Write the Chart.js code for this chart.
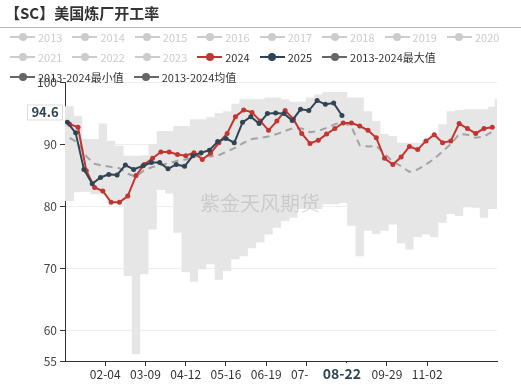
<!DOCTYPE html>
<html>
<head>
<meta charset="utf-8">
<script src="https://cdn.jsdelivr.net/npm/chart.js@4.4.0/dist/chart.umd.min.js"></script>
<style>
body{margin:0;background:#fff;}
#wrap{position:relative;width:521px;height:385px;overflow:hidden;font-family:"Noto Sans CJK SC","Noto Sans",sans-serif;}
#title{position:absolute;left:5px;top:2px;font-size:15px;font-weight:bold;color:#333;z-index:2;}
#rule{position:absolute;left:0;top:27px;width:521px;height:1px;background:#bbb;z-index:2;}
#legend{position:absolute;left:10px;top:27px;width:502px;display:flex;flex-wrap:wrap;column-gap:10px;z-index:2;}
.item{display:flex;align-items:center;height:20px;font-size:11px;color:#ccc;white-space:nowrap;}
.icon{position:relative;width:25px;height:14px;margin-right:3px;}
.icon i{position:absolute;left:0;right:0;top:6px;height:2px;}
.icon b{position:absolute;left:8.5px;top:3px;width:8px;height:8px;border-radius:50%;}
canvas{position:absolute;left:0;top:0;}
</style>
</head>
<body>
<div id="wrap">
  <canvas id="c" width="521" height="385"></canvas>
  <div id="title">【SC】美国炼厂开工率</div>
  <div id="rule"></div>
  <div id="legend"></div>
</div>
<script>
// weekly dates (MM-DD)
const dates2024 = ['01-05','01-12','01-19','01-26','02-02','02-09','02-16','02-23','03-01','03-08','03-15','03-22','03-29',
  '04-05','04-12','04-19','04-26','05-03','05-10','05-17','05-24','05-31','06-07','06-14','06-21','06-28',
  '07-05','07-12','07-19','07-26','08-02','08-09','08-16','08-23','08-30','09-06','09-13','09-20','09-27',
  '10-04','10-11','10-18','10-25','11-01','11-08','11-15','11-22','11-29','12-06','12-13','12-20','12-27'];
const dates2025 = ['01-03','01-10','01-17','01-24','01-31','02-07','02-14','02-21','02-28','03-07','03-14','03-21','03-28',
  '04-04','04-11','04-18','04-25','05-02','05-09','05-16','05-23','05-30','06-06','06-13','06-20','06-27',
  '07-04','07-11','07-18','07-25','08-01','08-08','08-15','08-22'];
const bandDates = ['01-01'].concat(dates2024, ['12-31']);

const vals2024 = [93.2,92.7,85.7,83.0,82.4,80.6,80.6,81.6,84.9,86.7,87.7,88.7,88.7,88.3,88.1,88.6,87.5,88.5,90.2,91.7,
  94.4,95.5,95.1,93.7,92.2,93.7,95.4,94.0,91.7,90.1,90.6,91.6,92.5,93.4,93.4,92.9,92.2,91.0,87.7,86.7,
  87.9,89.6,89.1,90.5,91.5,90.2,90.5,93.3,92.5,91.7,92.5,92.7];
const vals2025 = [93.5,91.8,85.9,83.6,84.6,85.1,85.0,86.6,85.9,86.5,87.0,87.0,86.0,86.7,86.4,88.1,88.6,89.0,90.4,90.9,
  90.2,93.5,94.4,93.3,94.9,95.0,94.9,93.8,95.6,95.4,97.0,96.4,96.6,94.6];
const meanVals = [91.0,90.2,88.0,86.8,86.5,86.3,86.1,85.2,84.7,85.8,86.3,86.6,86.9,87.3,87.5,87.9,88.2,88.0,88.2,88.8,
  89.4,90.2,90.8,91.0,91.2,91.6,92.1,92.6,92.5,91.9,92.1,92.6,93.2,93.5,92.8,89.8,89.6,89.7,88.4,87.2,
  86.4,85.5,85.9,86.7,87.6,88.8,90.0,91.6,91.5,91.0,91.2,92.0];
const maxVals = [96.1,
  96.1,94.5,90.8,90.8,93.3,90.5,89.7,88.1,88.1,88.2,90.0,92.1,92.1,92.9,92.9,94.0,94.0,94.3,95.0,95.3,
  96.5,97.2,97.2,97.2,97.5,97.5,97.2,96.8,96.8,97.5,98.0,98.4,98.4,98.4,97.5,97.5,95.3,93.7,91.6,91.3,
  90.2,90.2,90.2,90.6,91.6,93.2,95.3,95.5,95.6,95.6,95.6,96.0,
  97.2];
const minVals = [80.8,
  80.8,82.2,82.3,81.9,81.9,80.6,80.6,68.7,56.1,69.0,76.2,82.6,82.0,75.7,69.3,67.8,69.8,70.6,68.1,69.5,
  71.4,71.9,73.2,74.1,75.4,76.5,77.6,78.1,79.5,79.5,79.5,80.3,80.3,80.5,76.8,71.9,76.0,75.5,76.0,77.0,
  74.0,73.0,75.0,75.4,75.0,77.3,78.7,78.4,79.8,79.7,78.1,79.5,
  79.5];

const tickDates = ['02-04','03-09','04-12','05-16','06-19','07-23','08-26','09-29','11-02'];
const yTicks = [55, 60, 70, 80, 90, 100];

const legendNames = ['2013','2014','2015','2016','2017','2018','2019','2020','2021','2022','2023',
  '2024','2025','2013-2024最大值','2013-2024最小值','2013-2024均值'];
const legendColors = {'2024':'#c23531','2025':'#2f4554','2013-2024最大值':'#666','2013-2024最小值':'#666','2013-2024均值':'#666'};

const RED = '#c23531', NAVY = '#2f4554';

// day of year on a leap-year calendar
const doy = s => { const [m, d] = s.split('-').map(Number); return (Date.UTC(2024, m - 1, d) - Date.UTC(2024, 0, 1)) / 864e5; };
const pts = (dates, vals) => vals.map((v, i) => ({x: doy(dates[i]), y: v}));

// legend
const lg = document.getElementById('legend');
legendNames.forEach(n => {
  const c = legendColors[n];
  const el = document.createElement('div');
  el.className = 'item';
  el.innerHTML = `<span class="icon"><i style="background:${c || '#ccc'}"></i><b style="background:${c || '#ccc'}"></b></span><span>${n}</span>`;
  if (c) el.style.color = '#333';
  lg.appendChild(el);
});

const overlay = {
  id: 'overlay',
  afterDatasetsDraw(chart) {
    const {ctx, chartArea} = chart;
    ctx.save();
    ctx.font = '20px "Noto Sans CJK SC"';
    ctx.fillStyle = 'rgba(0,0,0,0.12)';
    ctx.textAlign = 'center';
    ctx.textBaseline = 'middle';
    ctx.fillText('紫金天风期货', chartArea.left + 195, 203);
    ctx.restore();
  },
  afterDraw(chart) {
    const {ctx, scales} = chart;
    const lastDate = dates2025[dates2025.length - 1];
    const lastVal = vals2025[vals2025.length - 1];
    const px = scales.x.getPixelForValue(doy(lastDate));
    const py = scales.y.getPixelForValue(lastVal) - 3;
    ctx.save();
    // x pointer label
    ctx.fillStyle = '#fff';
    ctx.fillRect(px - 33, 363, 57, 22);
    ctx.fillStyle = NAVY;
    ctx.font = 'bold 14px "Noto Sans CJK SC"';
    ctx.textAlign = 'center';
    ctx.textBaseline = 'middle';
    ctx.fillText(lastDate, px, 374);
    // y pointer label
    ctx.fillStyle = '#fff';
    ctx.strokeStyle = '#ddd';
    ctx.lineWidth = 1;
    ctx.fillRect(27, py - 8, 36, 16);
    ctx.strokeRect(27.5, py - 7.5, 35, 15);
    ctx.fillStyle = NAVY;
    ctx.font = 'bold 13px "Noto Sans CJK SC"';
    ctx.fillText(lastVal.toFixed(1), 45, py);
    ctx.restore();
  }
};

new Chart(document.getElementById('c'), {
  type: 'line',
  data: {
    datasets: [{
      label: '2013-2024最小值',
      data: pts(bandDates, minVals),
      borderColor: 'transparent',
      pointRadius: 0,
      stepped: 'middle',
      fill: false,
      order: 5
    }, {
      label: '2013-2024最大值',
      data: pts(bandDates, maxVals),
      borderColor: 'transparent',
      backgroundColor: '#e6e6e6',
      pointRadius: 0,
      stepped: 'middle',
      fill: '-1',
      order: 4
    }, {
      label: '2013-2024均值',
      data: pts(dates2024, meanVals),
      borderColor: '#a3a3a3',
      borderWidth: 2,
      borderDash: [7, 5],
      pointRadius: 0,
      fill: false,
      order: 3
    }, {
      label: '2024',
      data: pts(dates2024, vals2024),
      borderColor: RED,
      backgroundColor: RED,
      borderWidth: 2,
      pointRadius: 2.5,
      pointBorderWidth: 0,
      fill: false,
      order: 2
    }, {
      label: '2025',
      data: pts(dates2025, vals2025),
      borderColor: NAVY,
      backgroundColor: NAVY,
      borderWidth: 2,
      pointRadius: 2.5,
      pointBorderWidth: 0,
      fill: false,
      order: 1
    }]
  },
  options: {
    responsive: false,
    animation: false,
    events: [],
    layout: {padding: {top: 82, right: 24, left: 0, bottom: 0}},
    plugins: {legend: {display: false}, tooltip: {enabled: false}},
    scales: {
      x: {
        type: 'linear',
        min: 0,
        max: 365,
        afterBuildTicks: s => { s.ticks = tickDates.map(d => ({value: doy(d)})); },
        afterFit: s => { s.height = 24; },
        ticks: {
          autoSkip: false,
          maxRotation: 0,
          padding: 1,
          color: '#333',
          font: {size: 12, family: '"Noto Sans CJK SC"'},
          callback: v => tickDates.find(d => doy(d) === v)
        },
        grid: {drawOnChartArea: false, tickLength: 5, tickColor: '#333'},
        border: {color: '#333'}
      },
      y: {
        min: 55,
        max: 100,
        afterBuildTicks: s => { s.ticks = yTicks.map(v => ({value: v})); },
        afterFit: s => { s.width = 65; },
        ticks: {
          padding: 3,
          color: '#444',
          font: {size: 12, family: '"Noto Sans CJK SC"'}
        },
        grid: {color: '#eee', tickLength: 5, tickColor: '#333'},
        border: {color: '#333'}
      }
    }
  },
  plugins: [overlay]
});
</script>
</body>
</html>
